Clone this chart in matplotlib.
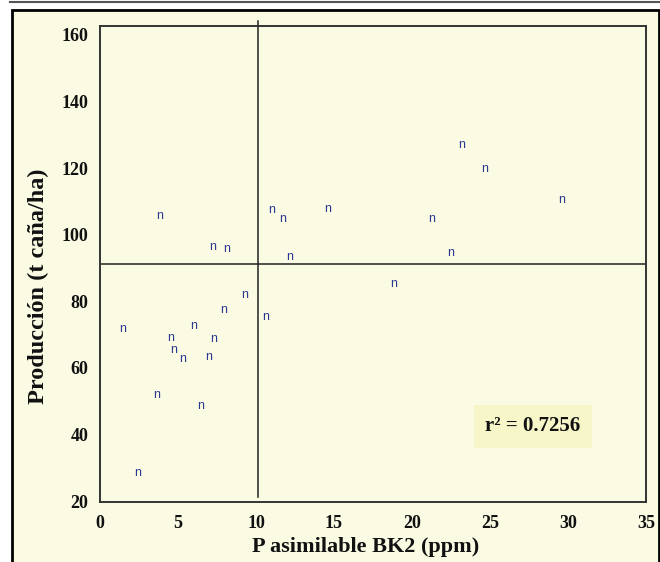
import matplotlib.pyplot as plt
from matplotlib.patches import Rectangle
from matplotlib.lines import Line2D

# P asimilable BK2 (ppm) vs production (t caña/ha)
p_bk2 = [2.44, 3.65, 3.85, 1.47, 4.55, 4.74, 5.32, 6.03, 6.47, 6.99, 7.31, 7.24, 8.14,
         7.95, 9.29, 10.64, 11.03, 11.73, 12.18, 14.62, 18.85, 21.28, 22.50, 23.21,
         24.68, 29.62]
produccion = [29.0, 52.4, 106.2, 72.0, 69.3, 65.7, 63.0, 72.9, 49.1, 63.6, 69.0, 96.9,
              96.3, 77.7, 82.2, 75.6, 108.0, 105.3, 93.9, 108.3, 85.5, 105.3, 95.1,
              127.3, 120.3, 111.0]
x_ticks = [0, 5, 10, 15, 20, 25, 30, 35]
y_ticks = [20, 40, 60, 80, 100, 120, 140, 160]
x_ref = 10.13   # vertical reference line
y_ref = 91.2    # horizontal reference line
r2_text = "r\u00b2 = 0.7256"

bg = "#FBFBE4"
serif = ["Liberation Serif", "DejaVu Serif"]

fig = plt.figure(figsize=(6.6, 5.62), dpi=100, facecolor="white")

# outer panel + top rule
fig.add_artist(Rectangle((12 / 660, -0.05), 647 / 660, 1.05 - 10 / 562,
                         transform=fig.transFigure, facecolor=bg,
                         edgecolor="black", lw=2, zorder=-1))
fig.add_artist(Line2D([10 / 660, 1], [1 - 1.5 / 562] * 2, transform=fig.transFigure,
                      color="#555555", lw=1.5, zorder=-1))

ax = fig.add_axes([100 / 660, 1 - 502 / 562, 546 / 660, 476 / 562])
ax.set_facecolor(bg)
ax.set_xlim(0, 35)
ax.set_ylim(19.7, 162.7)

for s in ax.spines.values():
    s.set_color("#333333")
    s.set_linewidth(1.4)

ax.axhline(y_ref, color="#222222", lw=1.1)
ax.plot([x_ref, x_ref], [21.2, 164.2], color="#222222", lw=1.1, clip_on=False)

for x, y in zip(p_bk2, produccion):
    ax.text(x, y, "n", color="#2B3990", fontsize=9, family="Liberation Sans",
            ha="center", va="center_baseline")

ax.set_xticks(x_ticks)
ax.set_yticks(y_ticks)
ax.tick_params(axis="x", length=0, pad=9)
ax.tick_params(axis="y", length=0, pad=8.5)
for lab in ax.get_xticklabels() + ax.get_yticklabels():
    lab.set_fontfamily(serif)
    lab.set_fontweight("bold")
    lab.set_fontsize(13)
    lab.set_color("#111111")

ax.set_xlabel("P asimilable BK2 (ppm)", family=serif, fontweight="bold",
              fontsize=16, color="#111111")
ax.set_ylabel("Producción (t caña/ha)", family=serif, fontweight="bold",
              fontsize=17.5, color="#111111")
ax.xaxis.set_label_coords(0.487, -0.0725)
ax.yaxis.set_label_coords(-0.094, 0.454)

ax.text(0.793, 0.159, r2_text, transform=ax.transAxes, family=serif,
        fontweight="bold", fontsize=15, color="#111111", ha="center", va="center",
        bbox=dict(boxstyle="square,pad=0.55", facecolor="#F6F6C8", edgecolor="none"))

fig.savefig("out.png", dpi=100, facecolor=fig.get_facecolor())
